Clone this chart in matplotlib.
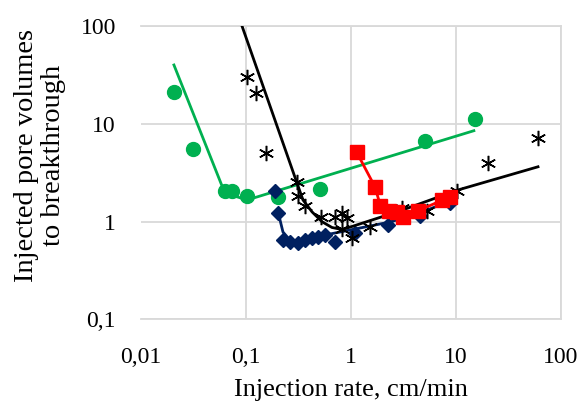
import matplotlib.pyplot as plt
import numpy as np
from matplotlib.ticker import FixedLocator, NullLocator

plt.rcParams['font.family'] = ['Liberation Serif', 'DejaVu Serif']

# green circles + fitted line
green_x = [0.0207, 0.031, 0.063, 0.073, 0.103, 0.20, 0.51, 5.07, 15.2]
green_y = [21.4, 5.59, 2.08, 2.08, 1.83, 1.80, 2.15, 6.75, 11.2]
green_fit_x = [0.0206, 0.0587, 0.073, 0.1026, 14.8]
green_fit_y = [40.2, 2.37, 1.87, 1.67, 8.54]

# blue diamonds + fitted line
blue_x = [0.189, 0.203, 0.227, 0.262, 0.315, 0.365, 0.422, 0.489, 0.565, 0.705, 1.09, 2.26, 4.54, 8.77]
blue_y = [2.06, 1.24, 0.65, 0.624, 0.601, 0.65, 0.676, 0.702, 0.731, 0.624, 0.761, 0.925, 1.14, 1.55]
blue_fit_x = [0.202, 0.225, 0.262, 0.327, 0.507, 0.977, 2.35, 4.54, 8.77]
blue_fit_y = [1.26, 0.785, 0.650, 0.635, 0.714, 0.822, 0.993, 1.23, 1.63]

# black asterisks + fitted line
black_x = [0.1016, 0.1245, 0.155, 0.309, 0.313, 0.361, 0.518, 0.704, 0.821, 0.916,
           0.815, 1.02, 1.52, 3.03, 5.3, 10.2, 20.3, 60.8]
black_y = [30.5, 20.8, 5.08, 2.55, 1.83, 1.45, 1.12, 1.13, 1.22, 1.09,
           0.842, 0.689, 0.889, 1.38, 1.29, 2.06, 3.96, 7.24]
black_fit_x = [0.091, 0.306, 0.349, 0.426, 0.530, 0.659, 0.821, 1.02, 2.93, 10.4, 60.4]
black_fit_y = [103, 2.49, 1.67, 1.26, 1.00, 0.873, 0.832, 0.893, 1.29, 2.11, 3.65]

# red squares
red_x = [1.13, 1.69, 1.91, 2.30, 2.74, 3.13, 4.38, 7.31, 8.77]
red_y = [5.17, 2.28, 1.45, 1.29, 1.26, 1.12, 1.30, 1.65, 1.79]

xticks = [0.01, 0.1, 1, 10, 100]
xlabels = ['0,01', '0,1', '1', '10', '100']
yticks = [0.1, 1, 10, 100]
ylabels = ['0,1', '1', '10', '100']

fig = plt.figure(figsize=(5.84, 4.03), dpi=100)
ax = fig.add_axes([0.2414, 0.2074, 0.7192, 0.7273])

green = '#00B050'
blue = '#002060'
red = '#FF0000'

ax.plot(green_fit_x, green_fit_y, color=green, lw=2, zorder=2)
ax.plot(green_x, green_y, 'o', color=green, ms=10, zorder=3)

ax.plot(blue_fit_x, blue_fit_y, color=blue, lw=2, zorder=4)
ax.plot(blue_x, blue_y, 'D', color=blue, ms=7.5, zorder=5)

ax.plot(black_fit_x, black_fit_y, color='black', lw=2, zorder=6)
ax.plot(black_x, black_y, ls='none', marker=(6, 2, 0), color='black', ms=11, mew=1.1, zorder=7)

ax.plot(red_x, red_y, color=red, lw=2, marker='s', ms=9.5, zorder=8)

ax.set_xscale('log')
ax.set_yscale('log')
ax.set_xlim(0.01, 100)
ax.set_ylim(0.1, 100)
ax.xaxis.set_major_locator(FixedLocator(xticks))
ax.yaxis.set_major_locator(FixedLocator(yticks))
ax.xaxis.set_minor_locator(NullLocator())
ax.yaxis.set_minor_locator(NullLocator())
ax.set_xticklabels(xlabels)
ax.set_yticklabels(ylabels)
ax.tick_params(length=0, labelsize=17)
ax.tick_params(axis='x', pad=20)
ax.tick_params(axis='y', pad=18)

ax.grid(True, color='#d9d9d9', lw=1.3)
ax.get_xgridlines()[0].set_visible(False)
for s in ax.spines.values():
    s.set_color('#d9d9d9')
    s.set_linewidth(1.3)
ax.spines['left'].set_visible(False)

ax.set_xlabel('Injection rate, cm/min', fontsize=19, labelpad=8)
ax.set_ylabel('Injected pore volumes\nto breakthrough', fontsize=20.5, linespacing=1.1)
ax.yaxis.set_label_coords(-0.178, 0.56)

fig.savefig('out.png', dpi=100)
